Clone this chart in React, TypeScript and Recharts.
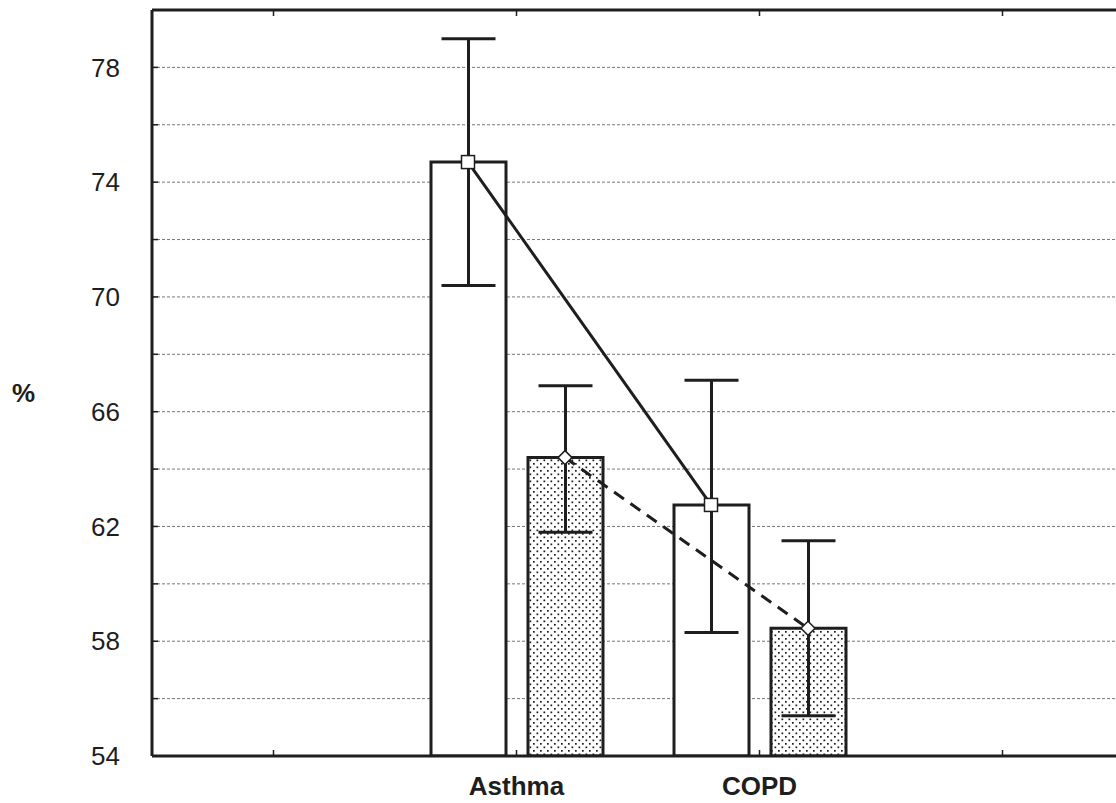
import React from "react";
import {
  ComposedChart,
  Bar,
  ErrorBar,
  Scatter,
  XAxis,
  YAxis,
  CartesianGrid,
  Label,
} from "recharts";

/* ── Data ───────────────────────────────────────────────────── */

const CATEGORIES = ["pad0", "Asthma", "COPD", "pad1"];
const SHOWN = ["Asthma", "COPD"];

// plain bars (square markers, solid line)
const WHITE_MEAN = [null, 74.7, 62.75, null];
const WHITE_LOW = [null, 70.4, 58.3, null];
const WHITE_HIGH = [null, 79.0, 67.1, null];

// stippled bars (diamond markers, dashed line)
const DOT_MEAN = [null, 64.4, 58.45, null];
const DOT_LOW = [null, 61.8, 55.4, null];
const DOT_HIGH = [null, 66.9, 61.5, null];

const Y_TICKS = [54, 56, 58, 60, 62, 64, 66, 68, 70, 72, 74, 76, 78, 80];

/* ── Layout ─────────────────────────────────────────────────── */

const W = 1130;
const H = 803;
const MARGIN = { top: 9, right: 6, bottom: 17, left: 0 };
const Y_AXIS_W = 152;
const PLOT_W = W - MARGIN.left - MARGIN.right - Y_AXIS_W;
const BAND = PLOT_W / CATEGORIES.length;
const BAR_SIZE = 75;
const BAR_GAP = 22;
const SHIFT = (BAR_SIZE + BAR_GAP) / 2 / BAND;

const FONT = "'Liberation Sans', Arial, sans-serif";
const INK = "#1e1e1e";

const errOf = (m: (number | null)[], lo: (number | null)[], hi: (number | null)[], i: number) =>
  m[i] == null ? null : [(m[i] as number) - (lo[i] as number), (hi[i] as number) - (m[i] as number)];

const data = CATEGORIES.map((name, i) => ({
  name,
  white: WHITE_MEAN[i],
  whiteErr: errOf(WHITE_MEAN, WHITE_LOW, WHITE_HIGH, i),
  dots: DOT_MEAN[i],
  dotsErr: errOf(DOT_MEAN, DOT_LOW, DOT_HIGH, i),
}));

const whitePts = CATEGORIES.map((_, i) => ({ x: i - SHIFT, y: WHITE_MEAN[i] })).filter((p) => p.y != null);
const dotPts = CATEGORIES.map((_, i) => ({ x: i + SHIFT, y: DOT_MEAN[i] })).filter((p) => p.y != null);

/* ── Marker shapes ──────────────────────────────────────────── */

const SquareMark = (p: any) => (
  <rect x={p.cx - 6.5} y={p.cy - 6.5} width={13} height={13} fill="#fff" stroke={INK} strokeWidth={1.5} />
);

const DiamondMark = (p: any) => (
  <polygon
    points={`${p.cx},${p.cy - 7} ${p.cx + 7},${p.cy} ${p.cx},${p.cy + 7} ${p.cx - 7},${p.cy}`}
    fill="#fff"
    stroke={INK}
    strokeWidth={1.5}
  />
);

const NoMark = () => <g />;

/* ── Component ──────────────────────────────────────────────── */

export default function App() {
  return (
    <div
      style={{
        position: "fixed",
        left: 0,
        top: 0,
        width: 1116,
        height: 803,
        overflow: "hidden",
        background: "#fff",
      }}
    >
      <ComposedChart width={W} height={H} data={data} margin={MARGIN} barSize={BAR_SIZE} barGap={BAR_GAP}>
        <defs>
          <pattern id="stipple" width="7" height="7" patternUnits="userSpaceOnUse">
            <rect width="7" height="7" fill="#fff" />
            <rect x="1" y="1" width="1.7" height="1.7" fill="#1a1a1a" />
            <rect x="4.5" y="4.5" width="1.7" height="1.7" fill="#1a1a1a" />
          </pattern>
        </defs>
        <CartesianGrid
          xAxisId="cat"
          vertical={false}
          stroke="#777"
          strokeDasharray="3 2"
          strokeWidth={1}
        />
        <XAxis
          xAxisId="cat"
          dataKey="name"
          height={30}
          interval={0}
          axisLine={{ stroke: INK, strokeWidth: 3 }}
          tickLine={{ stroke: INK, strokeWidth: 1.5 }}
          tickSize={-6}
          tickMargin={27}
          tickFormatter={(v: string) => (SHOWN.includes(v) ? v : "")}
          tick={{ fill: INK, fontSize: 26, fontWeight: "bold", fontFamily: FONT }}
        />
        <XAxis
          xAxisId="top"
          dataKey="name"
          orientation="top"
          height={1}
          interval={0}
          axisLine={{ stroke: INK, strokeWidth: 3 }}
          tickLine={{ stroke: INK, strokeWidth: 1.5 }}
          tickSize={-6}
          tickFormatter={() => ""}
        />
        <XAxis xAxisId="num" dataKey="x" type="number" domain={[-0.5, CATEGORIES.length - 0.5]} hide />
        <YAxis
          width={Y_AXIS_W}
          domain={[54, 80]}
          ticks={Y_TICKS}
          interval={0}
          allowDataOverflow
          axisLine={{ stroke: INK, strokeWidth: 3 }}
          tickLine={{ stroke: INK, strokeWidth: 1.5 }}
          tickSize={-6}
          tickMargin={38}
          tickFormatter={(v: number) => ((v - 54) % 4 === 0 && v < 80 ? String(v) : "")}
          tick={{ fill: INK, fontSize: 26, fontFamily: FONT }}
        >
          <Label
            value="%"
            position="insideLeft"
            offset={12}
            dy={10}
            style={{ fill: INK, fontSize: 26, fontWeight: "bold", fontFamily: FONT }}
          />
        </YAxis>
        <Bar xAxisId="cat" dataKey="white" fill="#fff" stroke={INK} strokeWidth={3} isAnimationActive={false}>
          <ErrorBar dataKey="whiteErr" direction="y" width={27} stroke={INK} strokeWidth={3} />
        </Bar>
        <Bar xAxisId="cat" dataKey="dots" fill="url(#stipple)" stroke={INK} strokeWidth={3} isAnimationActive={false}>
          <ErrorBar dataKey="dotsErr" direction="y" width={27} stroke={INK} strokeWidth={3} />
        </Bar>
        {/* keeps the top frame axis registered */}
        <Scatter xAxisId="top" data={[]} dataKey="y" shape={NoMark} isAnimationActive={false} />
        <Scatter
          xAxisId="num"
          data={whitePts}
          dataKey="y"
          line={{ stroke: INK, strokeWidth: 3 }}
          lineType="joint"
          shape={SquareMark}
          isAnimationActive={false}
        />
        <Scatter
          xAxisId="num"
          data={dotPts}
          dataKey="y"
          line={{ stroke: INK, strokeWidth: 3, strokeDasharray: "12 8" }}
          lineType="joint"
          shape={DiamondMark}
          isAnimationActive={false}
        />
      </ComposedChart>
    </div>
  );
}
